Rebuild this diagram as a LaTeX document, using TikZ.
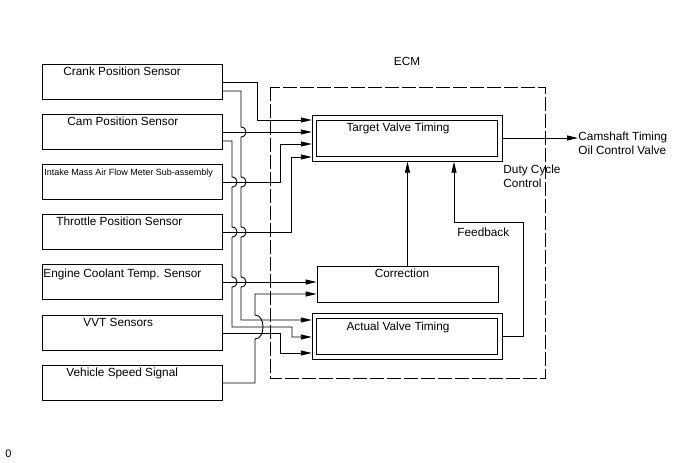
\documentclass[tikz,border=0pt]{standalone}
\usepackage{fontspec}
\setmainfont{Liberation Sans}
\usetikzlibrary{arrows.meta}

\begin{document}
\begin{tikzpicture}[x=1pt,y=-1pt,line width=0.9pt,
    font=\fontsize{11.8pt}{14pt}\selectfont,
    sensor/.style={draw,minimum width=180pt,minimum height=35pt,inner sep=0pt},
    block/.style={draw,minimum width=181pt,minimum height=36pt,inner sep=0pt},
    valve/.style={draw,double,double distance=3.5pt,minimum width=185.5pt,
      minimum height=41pt,inner sep=0pt,outer sep=2.7pt},
    txt/.style={inner sep=0pt,text height=.72em,text depth=0pt},
    note/.style={inner sep=0pt,align=left,anchor=west},
    sig/.style={-{Triangle[length=11pt,width=5pt]}}]
  \useasboundingbox (0,0) rectangle (688,463);
  % sensors
  \node[sensor] (crank) at (132,81.5) {};
  \node[sensor] (cam) at (132,131.5) {};
  \node[sensor] (maf) at (132,181.5) {};
  \node[sensor] (tps) at (132,232) {};
  \node[sensor] (ect) at (132,282) {};
  \node[sensor] (vvt) at (132,332.5) {};
  \node[sensor] (spd) at (132,382.5) {};
  \node[txt,anchor=west] (crank-t) at (63,72) {Crank Position Sensor};
  \node[txt,anchor=west] (cam-t) at (67,122) {Cam Position Sensor};
  \node[txt,anchor=west,font=\fontsize{9pt}{11pt}\selectfont] (maf-t) at (44,172)
    {Intake Mass Air Flow Meter Sub-assembly};
  \node[txt,anchor=west] (tps-t) at (56,222) {Throttle Position Sensor};
  \node[txt,anchor=west] (ect-t) at (43,274) {Engine Coolant Temp. Sensor};
  \node[txt,anchor=west] (vvt-t) at (83,323) {VVT Sensors};
  \node[txt,anchor=west] (spd-t) at (66,373) {Vehicle Speed Signal};
  % ECM
  \draw[dash pattern=on 14pt off 3pt] (270,87) rectangle (545,378);
  \node[txt] (ecm-t) at (407,62) {ECM};
  \node[valve] (target) at (407.25,138.5) {};
  \node[block] (corr) at (407.5,284) {};
  \node[valve] (actual) at (407.25,336.5) {};
  \node[txt] (target-t) at (398,128) {Target Valve Timing};
  \node[txt] (corr-t) at (402,274) {Correction};
  \node[txt] (actual-t) at (398,327) {Actual Valve Timing};
  \node[note] (duty-t) at (503,176) {Duty Cycle\\Control};
  \node[txt,anchor=west] (fb-t) at (457,233) {Feedback};
  \node[note] (ocv-t) at (578,143) {Camshaft Timing\\Oil Control Valve};
  \node[txt,font=\fontsize{11pt}{13pt}\selectfont] (pg-t) at (8.5,453.5) {0};
  % signals
  \begin{scope}[sig]
    \draw (crank.east |- 0,82) -| (257,120) -- (target.west |- 0,120);
    \draw (crank.east |- 0,91) -- (241,91) -- (241,127)
      .. controls +(6.7,0) and +(6.7,0) .. (241,137) -- (241,177)
      .. controls +(6.7,0) and +(6.7,0) .. (241,187) -- (241,227)
      .. controls +(6.7,0) and +(6.7,0) .. (241,237) -- (241,277)
      .. controls +(6.7,0) and +(6.7,0) .. (241,287) -- (241,320)
      -- (actual.west |- 0,320);
    \draw (cam.east |- 0,132) -- (target.west |- 0,132);
    \draw (cam.east |- 0,141) -- (232,141) -- (232,177)
      .. controls +(6.7,0) and +(6.7,0) .. (232,187) -- (232,227)
      .. controls +(6.7,0) and +(6.7,0) .. (232,237) -- (232,277)
      .. controls +(6.7,0) and +(6.7,0) .. (232,287) -- (232,327)
      -- (292,327) -- (292,337) -- (actual.west |- 0,337);
    \draw (maf.east |- 0,182) -| (280,144) -- (target.west |- 0,144);
    \draw (tps.east |- 0,232) -| (291,157) -- (target.west |- 0,157);
    \draw (ect.east |- 0,282) -- (corr.west |- 0,282);
    \draw (vvt.east |- 0,333) -| (280,353) -- (actual.west |- 0,353);
    \draw (spd.east |- 0,383) -- (255,383) -- (255,339)
      .. controls +(10.7,0) and +(10.7,0) .. (255,315) -- (255,294)
      -- (corr.west |- 0,294);
    \draw (corr.north) -- (corr.north |- target.south);
    \draw (actual.east) -| (523,222) -| (454,0 |- target.south);
    \draw (target.east |- 0,138) -- (ocv-t.west |- 0,138);
  \end{scope}
\end{tikzpicture}
\end{document}
